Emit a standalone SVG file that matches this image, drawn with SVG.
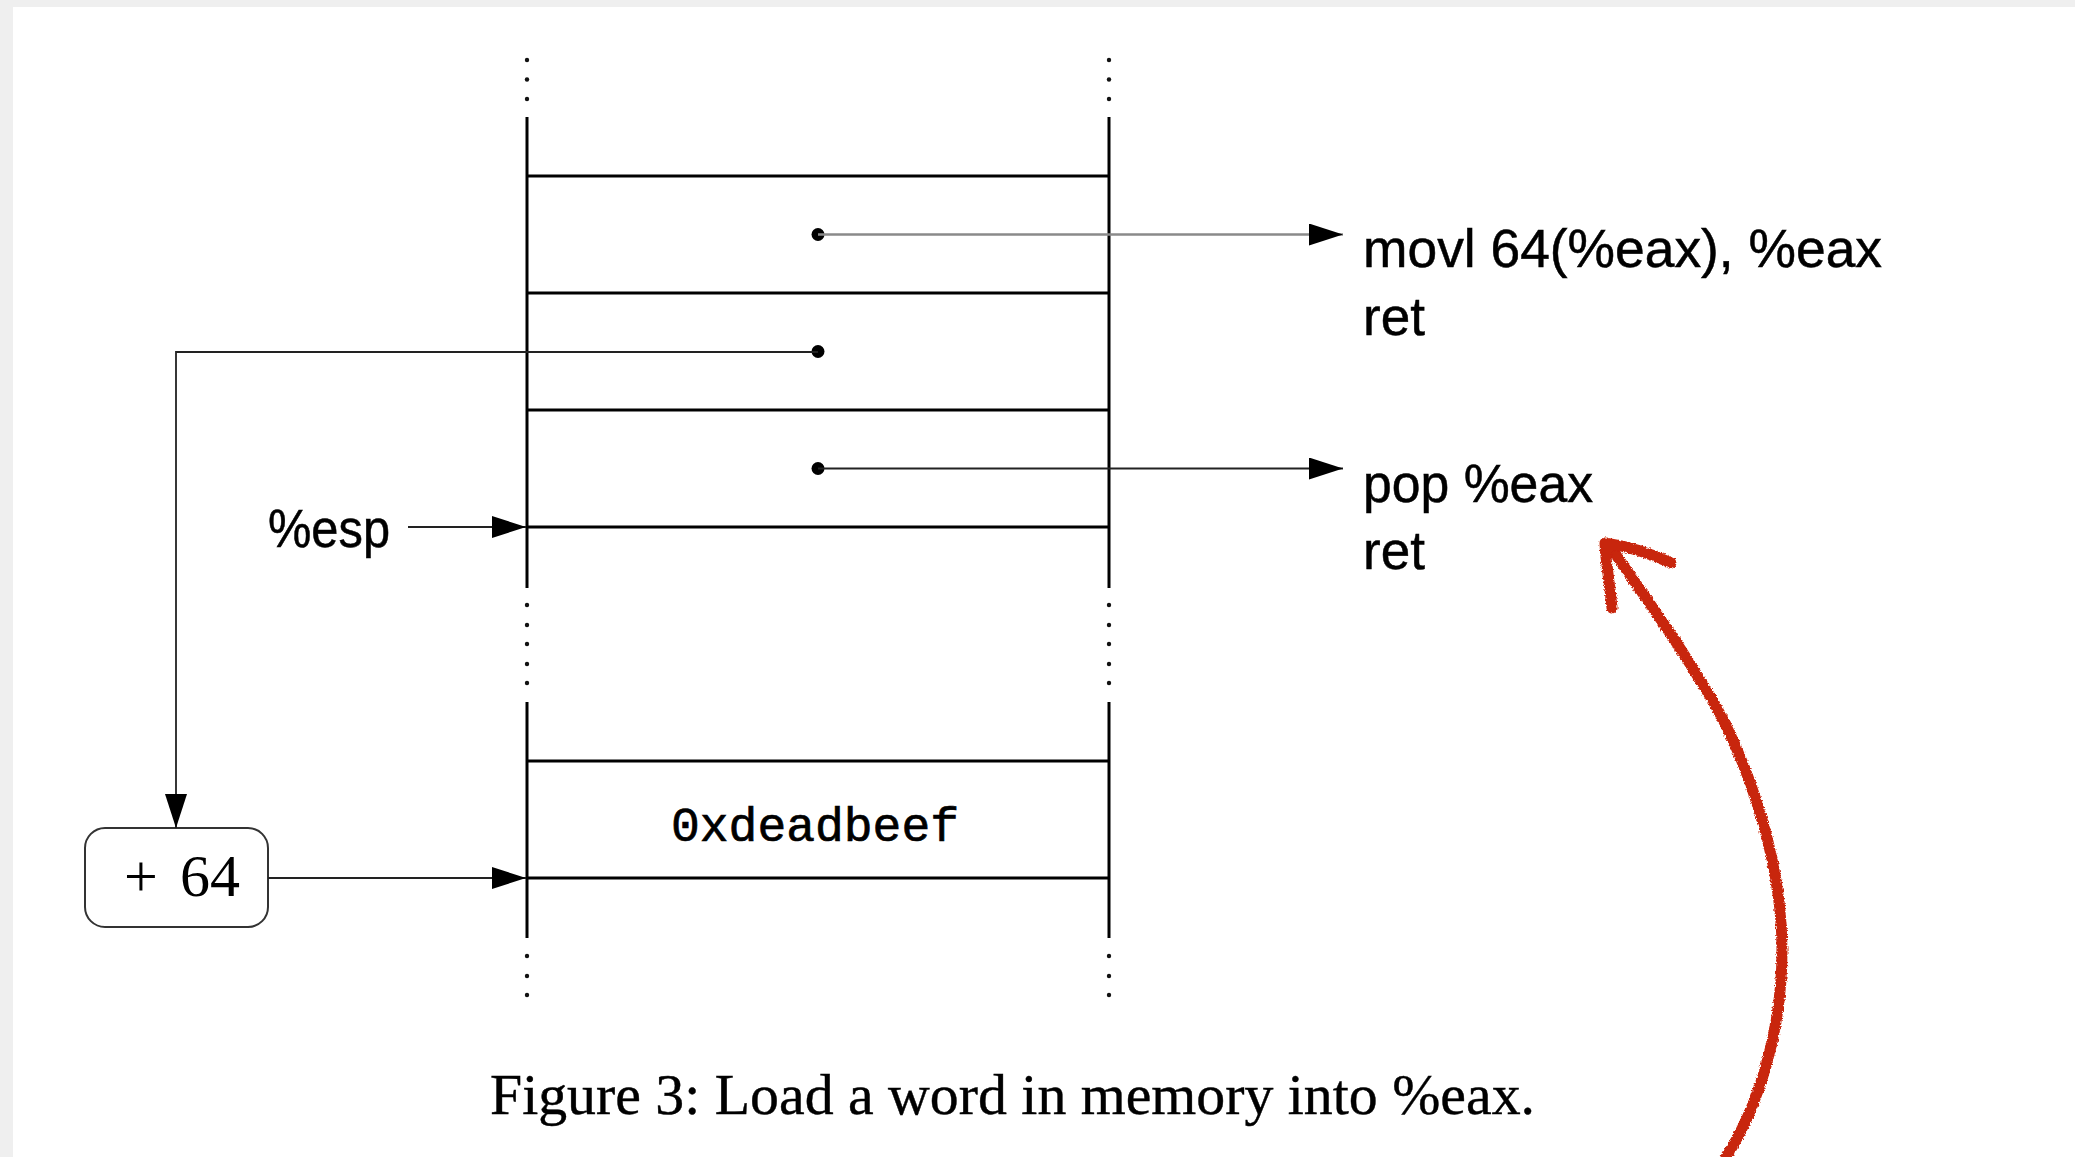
<svg xmlns="http://www.w3.org/2000/svg" width="2075" height="1157" viewBox="0 0 2075 1157">
<style>
.wall{stroke:#000;stroke-width:3;fill:none}
.cell{stroke:#000;stroke-width:3;fill:none}
.conn{stroke:#222;stroke-width:1.8;fill:none}
.sans{font-family:"Liberation Sans",Arial,sans-serif;font-size:53px;fill:#000;stroke:#000;stroke-width:0.5}
.serif{font-family:"Liberation Serif","Times New Roman",serif;fill:#000}
.mono{font-family:"Liberation Mono","Courier New",monospace;font-size:48px;fill:#000;stroke:#000;stroke-width:0.7}
.dot{fill:#000}
.vdot{fill:#111}
</style>
<defs>
<marker id="ah" markerUnits="userSpaceOnUse" markerWidth="36" markerHeight="24" refX="34" refY="11" orient="auto" viewBox="0 0 36 24">
<path d="M0,0 L34,11 L0,22 z" fill="#000"/>
</marker>
<filter id="rough" x="-10%" y="-10%" width="120%" height="120%">
<feTurbulence type="fractalNoise" baseFrequency="0.6" numOctaves="2" seed="3" result="n"/>
<feDisplacementMap in="SourceGraphic" in2="n" scale="4" xChannelSelector="R" yChannelSelector="G"/>
</filter>
</defs>
<rect x="0" y="0" width="2075" height="1157" fill="#efefef"/>
<rect x="13" y="7" width="2062" height="1150" fill="#ffffff"/>

<g id="stack-upper">
<path class="wall" d="M527,117 V588 M1109,117 V588"/>
<path class="cell" d="M527,176 H1109 M527,293 H1109 M527,410 H1109 M527,527 H1109"/>
<g class="vdot">
<circle cx="527" cy="60" r="2.2"/><circle cx="527" cy="79.5" r="2.2"/><circle cx="527" cy="99" r="2.2"/>
<circle cx="1109" cy="60" r="2.2"/><circle cx="1109" cy="79.5" r="2.2"/><circle cx="1109" cy="99" r="2.2"/>
<circle cx="527" cy="605" r="2.2"/><circle cx="527" cy="625" r="2.2"/><circle cx="527" cy="644" r="2.2"/><circle cx="527" cy="664" r="2.2"/><circle cx="527" cy="683" r="2.2"/>
<circle cx="1109" cy="605" r="2.2"/><circle cx="1109" cy="625" r="2.2"/><circle cx="1109" cy="644" r="2.2"/><circle cx="1109" cy="664" r="2.2"/><circle cx="1109" cy="683" r="2.2"/>
</g>
<circle class="dot" cx="818" cy="234.5" r="6.5"/>
<circle class="dot" cx="818" cy="351.5" r="6.5"/>
<circle class="dot" cx="818" cy="468.5" r="6.5"/>
</g>

<g id="stack-lower">
<path class="wall" d="M527,702 V938 M1109,702 V938"/>
<path class="cell" d="M527,761 H1109 M527,878 H1109"/>
<text class="mono" x="815" y="841" text-anchor="middle">0xdeadbeef</text>
<g class="vdot">
<circle cx="527" cy="956" r="2.2"/><circle cx="527" cy="976" r="2.2"/><circle cx="527" cy="995" r="2.2"/>
<circle cx="1109" cy="956" r="2.2"/><circle cx="1109" cy="976" r="2.2"/><circle cx="1109" cy="995" r="2.2"/>
</g>
</g>

<g id="gadget-movl">
<text class="sans" x="1363" y="267" textLength="519" lengthAdjust="spacingAndGlyphs">movl 64(%eax), %eax</text>
<text class="sans" x="1363" y="335">ret</text>
</g>

<g id="gadget-pop">
<text class="sans" x="1363" y="502" textLength="230" lengthAdjust="spacingAndGlyphs">pop %eax</text>
<text class="sans" x="1363" y="569">ret</text>
</g>

<g id="esp-label">
<text class="sans" x="268" y="547" textLength="122" lengthAdjust="spacingAndGlyphs">%esp</text>
</g>

<g id="plus64">
<rect x="85" y="828" width="183" height="99" rx="20" ry="20" fill="#fff" stroke="#333" stroke-width="2"/>
<text class="serif" x="124" y="896" font-size="60">+ <tspan x="180">64</tspan></text>
</g>

<g id="connectors">
<path d="M818,234.5 H1343" stroke="#8a8a8a" stroke-width="2.5" fill="none" marker-end="url(#ah)"/>
<path class="conn" d="M818,468.5 H1343" marker-end="url(#ah)"/>
<path class="conn" d="M818,352 H176 V828" marker-end="url(#ah)"/>
<path class="conn" d="M408,527 H526" marker-end="url(#ah)"/>
<path class="conn" d="M268,878 H526" marker-end="url(#ah)"/>
</g>

<g id="red-arrow" filter="url(#rough)" stroke="#c8250d" stroke-width="11" stroke-linecap="round" stroke-linejoin="round" fill="none">
<path d="M1723,1162 C1760,1105 1782,1030 1782,950 C1782,850 1740,740 1700,680 C1670,630 1640,590 1614,552"/>
<path d="M1612,608 C1610,585 1606,565 1605,543 C1625,546 1650,553 1671,563"/>
</g>

<g id="caption">
<text class="serif" x="490" y="1114" font-size="56" textLength="1045" lengthAdjust="spacingAndGlyphs" stroke="#000" stroke-width="0.4">Figure 3: Load a word in memory into %eax.</text>
</g>
</svg>
